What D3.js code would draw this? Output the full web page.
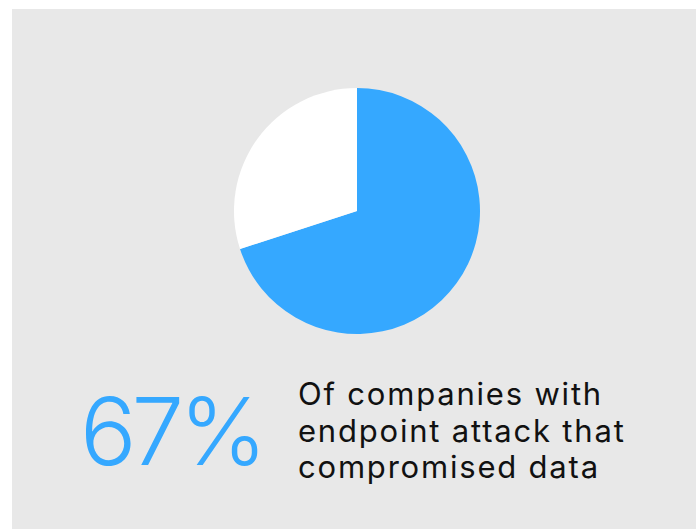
<!DOCTYPE html>
<html lang="en">

<head>
	<meta charset="utf-8">
	<title>endpoint attacks</title>
	<style>
		html, body { margin: 0; padding: 0; background: #ffffff; }
	</style>
</head>

<body>
	<script src="https://cdn.jsdelivr.net/npm/d3@7"></script>
	<script>

		// slices (blue ~70%, white ~30%)
		const categories = ["compromised", "other"];
		const values = [70, 30];
		const colors = ["#35a8ff", "#ffffff"];

		const statLabel = "67%";
		const captionLines = ["Of companies with", "endpoint attack that", "compromised data"];

		const width = 699, height = 529;

		const svg = d3.select("body")
			.append("svg")
			.attr("width", width)
			.attr("height", height);

		svg.append("rect")
			.attr("x", 12)
			.attr("y", 9)
			.attr("width", 684)
			.attr("height", 520)
			.attr("fill", "#e8e8e8");

		const pie = d3.pie().sort(null).value((d) => d.value);
		const arc = d3.arc().innerRadius(0).outerRadius(123);

		const data = categories.map((c, i) => ({ name: c, value: values[i] }));

		const gPie = svg.append("g")
			.attr("transform", "translate(357,211)");

		gPie.selectAll("path")
			.data(pie(data))
			.join("path")
			.attr("d", arc)
			.attr("fill", (d, i) => colors[i]);

		svg.append("text")
			.attr("x", 80)
			.attr("y", 465)
			.attr("font-family", "Inter, sans-serif")
			.attr("font-weight", 300)
			.attr("font-size", 94)
			.attr("letter-spacing", -5)
			.attr("fill", colors[0])
			.text(statLabel);

		svg.append("text")
			.attr("font-family", "Inter, sans-serif")
			.attr("font-size", 31)
			.attr("letter-spacing", 1.8)
			.attr("fill", "#111111")
			.selectAll("tspan")
			.data(captionLines)
			.join("tspan")
			.attr("x", 298)
			.attr("y", (d, i) => 405 + i * 36.5)
			.text((d) => d);

	</script>
</body>

</html>
